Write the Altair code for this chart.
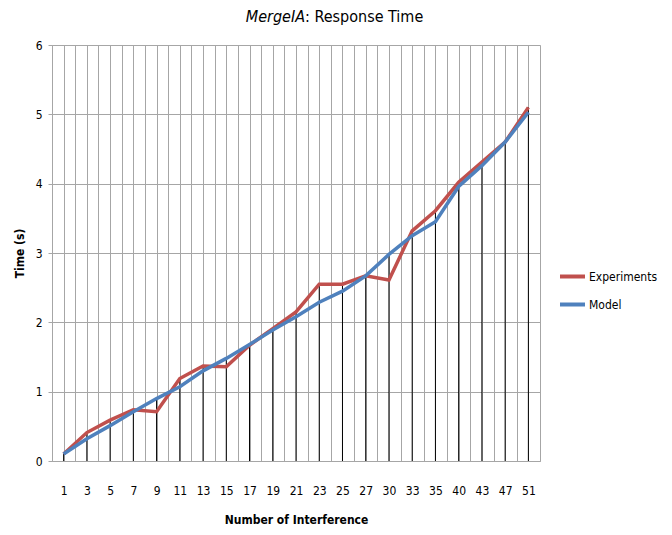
import json
import altair as alt
import pandas as pd

# ---- data ----
categories = ["1", "3", "5", "7", "9", "11", "13", "15", "17", "19", "21",
              "23", "25", "27", "30", "33", "35", "40", "43", "47", "51"]
experiments = [0.10, 0.41, 0.59, 0.74, 0.71, 1.19, 1.37, 1.36, 1.67, 1.91, 2.15,
               2.55, 2.55, 2.67, 2.61, 3.32, 3.61, 4.02, 4.31, 4.60, 5.10]
model = [0.10, 0.32, 0.51, 0.71, 0.90, 1.07, 1.30, 1.48, 1.68, 1.89, 2.08,
         2.29, 2.45, 2.67, 2.98, 3.25, 3.45, 3.96, 4.26, 4.60, 5.03]
series_names = ["Experiments", "Model"]
series_colors = ["#C0504D", "#4F81BD"]
y_ticks = [0, 1, 2, 3, 4, 5, 6]
title_parts = ["MergeIA", ": Response Time"]

FONT = "Liberation Sans Narrow, DejaVu Sans Condensed, Open Sans, sans-serif"
GRID = "#a6a6a6"

n = len(categories)
wide = pd.DataFrame({
    "idx": list(range(n)),
    "label": categories,
    "Experiments": experiments,
    "Model": model,
})
wide["top"] = wide[["Experiments", "Model"]].max(axis=1)
long = wide.melt(id_vars=["idx", "label"], value_vars=series_names,
                 var_name="series", value_name="time")

grid_values = [i * 0.5 - 0.5 for i in range(2 * n + 1)]
label_expr = ("(datum.value % 1 == 0 && datum.value >= 0) ? " + json.dumps(categories) +
              "[datum.value] : ''")

x_scale = alt.Scale(domain=[-0.5, n - 0.5], nice=False, zero=False)
y_scale = alt.Scale(domain=[0, 6], nice=False)

x_axis = alt.Axis(values=grid_values, labelExpr=label_expr, title="Number of Interference",
                  grid=True, gridColor=GRID, gridWidth=1, ticks=False,
                  domainColor=GRID, labelPadding=24, labelOverlap=False,
                  labelFlush=False, labelFont=FONT, labelFontSize=12,
                  labelColor="#000000", titleFont=FONT, titleFontSize=12,
                  titleFontWeight="bold", titlePadding=18, titleColor="#000000")
y_axis = alt.Axis(values=y_ticks, format="d", title="Time (s)", grid=True, gridColor=GRID,
                  gridWidth=1, tickSize=4, tickColor=GRID, domainColor=GRID,
                  labelPadding=6, labelFont=FONT, labelFontSize=12,
                  labelColor="#000000", titleFont=FONT, titleFontSize=12,
                  titleFontWeight="bold", titlePadding=9, titleColor="#000000")

drops = alt.Chart(wide).mark_rule(color="#000000", strokeWidth=1).encode(
    x=alt.X("idx:Q", scale=x_scale, axis=x_axis),
    y=alt.Y("top:Q", scale=y_scale, axis=y_axis),
    y2=alt.datum(0),
)

lines = alt.Chart(long).mark_line(strokeWidth=3.5).encode(
    x=alt.X("idx:Q", scale=x_scale, axis=x_axis),
    y=alt.Y("time:Q", scale=y_scale, axis=y_axis),
    color=alt.Color("series:N",
                    scale=alt.Scale(domain=series_names, range=series_colors),
                    legend=alt.Legend(title=None, orient="none", legendX=506,
                                      legendY=217, symbolType="stroke",
                                      symbolSize=625, symbolStrokeWidth=4,
                                      labelFont=FONT, labelFontSize=12,
                                      labelColor="#000000", labelOffset=2,
                                      rowPadding=5, padding=0)),
    order="idx:Q",
)

title_df = pd.DataFrame({"part": title_parts})
title_a = alt.Chart(title_df).transform_filter(
    alt.datum.part == title_parts[0]
).mark_text(font=FONT, fontSize=16, fontStyle="italic", align="right",
            baseline="middle", color="#000000").encode(
    text="part:N", x=alt.value(253), y=alt.value(-28))
title_b = alt.Chart(title_df).transform_filter(
    alt.datum.part == title_parts[1]
).mark_text(font=FONT, fontSize=16, align="left", baseline="middle",
            color="#000000").encode(
    text="part:N", x=alt.value(253), y=alt.value(-28))

chart = alt.layer(drops, lines, title_a, title_b).properties(
    width=488, height=416,
    autosize=alt.AutoSizeParams(type="none"),
    padding={"left": 44, "top": 37, "right": 124, "bottom": 66},
).configure_view(stroke=None).configure(background="#ffffff")

chart.save("out.html", embed_options={"renderer": "svg", "actions": False})
